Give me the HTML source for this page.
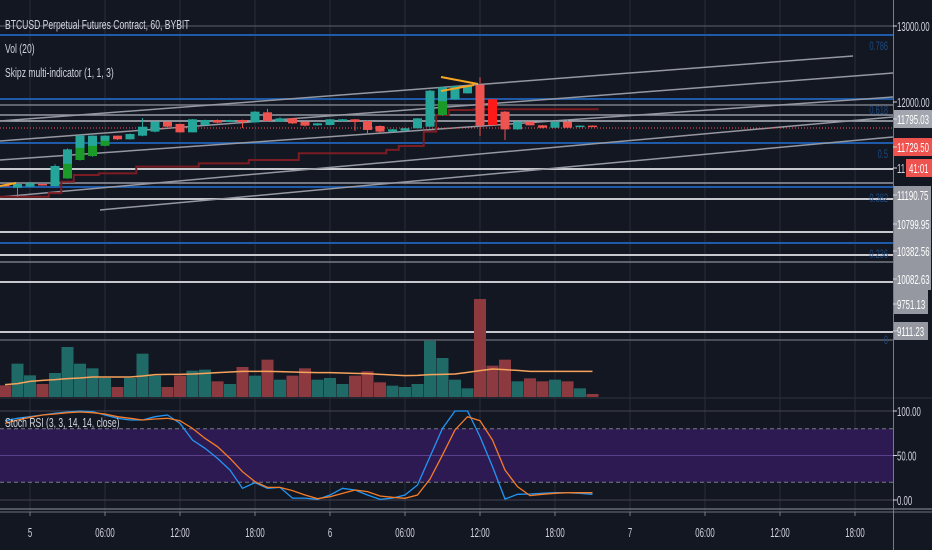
<!DOCTYPE html>
<html><head><meta charset="utf-8">
<style>
html,body{margin:0;padding:0;background:#131722;}
#wrap{position:relative;width:932px;height:550px;overflow:hidden;background:#131722;font-family:"Liberation Sans",sans-serif;}
svg{position:absolute;left:0;top:0;}
.lg{position:absolute;left:5px;color:#d1d4dc;font-size:13px;font-family:"Liberation Sans",sans-serif;white-space:nowrap;transform:scaleX(0.66);transform-origin:0 0;}
</style></head>
<body>
<div id="wrap">
<svg id="chart" width="932" height="550"></svg>
<div class="lg" style="top:17px">BTCUSD Perpetual Futures Contract, 60, BYBIT</div>
<div class="lg" style="top:41px">Vol (20)</div>
<div class="lg" style="top:65px">Skipz multi-indicator (1, 1, 3)</div>
<div class="lg" style="top:415px">Stoch RSI (3, 3, 14, 14, close)</div>
</div>
<script>
// ---- data (hourly bars, first bar = day 5 hour -2) ----
const hours = [-2,-1,0,1,2,3,4,5,6,7,8,9,10,11,12,13,14,15,16,17,18,19,20,21,22,23,24,25,26,27,28,29,30,31,32,33,34,35,36,37,38,39,40,41,42,43,44,45];
const opens = [10908,10873,10886,10921,10895,10996,11237,11289,11425,11557,11509,11557,11610,11741,11711,11601,11697,11763,11737,11763,11732,11864,11741,11785,11741,11693,11697,11750,11772,11750,11684,11610,11623,11654,11675,11829,12035,12114,12224,12035,11873,11640,11741,11693,11662,11741,11675,11689];
const closes = [10895,10921,10930,10904,11158,11377,11557,11557,11557,11509,11579,11675,11741,11675,11601,11772,11763,11728,11763,11737,11873,11750,11785,11719,11689,11719,11772,11772,11737,11632,11610,11640,11654,11785,12149,12193,12211,12211,11689,11697,11640,11741,11693,11662,11741,11662,11689,11684];
const highs = [10915,10925,10950,10925,11180,11390,11575,11560,11560,11560,11585,11790,11745,11745,11715,11775,11768,11770,11766,11768,11880,11910,11800,11790,11745,11722,11776,11776,11776,11755,11690,11645,11658,11790,12160,12200,12215,12215,12325,12040,11880,11745,11745,11698,11745,11770,11692,11692];
const lows = [10886,10754,10880,10900,10890,10990,11230,11280,11420,11500,11505,11550,11600,11670,11595,11598,11690,11720,11733,11660,11728,11745,11738,11712,11680,11688,11693,11745,11620,11570,11600,11605,11618,11650,11670,11820,12030,12110,11553,11690,11500,11635,11690,11655,11658,11655,11670,11680];
const signal = [0,0,0,0,0,1,1,1,1,0,0,0,0,0,0,0,0,0,0,0,0,0,0,0,0,0,0,0,0,0,0,0,0,0,0,1,0,0,0,2,0,0,0,0,0,0,0,0];
const volumes = [35,100,65,39,72,150,100,86,57,30,57,130,64,30,64,79,82,47,39,90,64,112,52,64,86,52,57,39,64,77,44,34,30,39,169,117,52,26,294,94,112,47,56,47,52,47,26,9];
const volMA = [37,40,47,50,52,55,57,60,60,60,60,63,67,68,68,69,71,73,75,77,77,77,76,75,74,73,73,72,71,70,68,66,64,65,67,68,69,74,79,84,82,80,77,77,77,77,77,77];
const trail = [10754,10754,10754,10754,10801,10950,11039,11039,11061,11061,11061,11149,11149,11149,11149,11149,11193,11193,11193,11193,11237,11237,11237,11237,11325,11325,11325,11325,11325,11325,11325,11370,11421,11421,11610,11829,11895,11895,11904,11904,11904,11904,11904,11904,11904,11904,11904,11904];
const stochK = [89.1,91.8,93.6,95.5,97.4,98.9,100,99.3,95.5,91.8,89.9,89.9,93.6,95.5,86.1,67.4,58.1,46.8,33.7,13.1,19.5,13.1,14.2,2.1,2.1,0.7,5.6,13.1,11.2,5.6,0.7,2.1,5.6,16.9,48.7,80.5,100,100,71.2,37.5,1.1,6.4,6.7,7.5,8.2,8.2,7.5,6.4];
const stochD = [86.1,89.9,92.9,95.5,96.6,98.1,98.9,98.1,96.6,93.6,91.8,89.9,91,91.8,89.1,80.5,69.3,59.9,46.8,31.8,20.6,14.2,14.2,10.5,5.6,1.5,3.7,7.5,11.2,9.4,4.5,3,1.9,5.6,23.6,50.6,78.7,93.6,89.1,67.4,33.7,15,4.9,6.4,7.5,8.2,8.2,8.2];
const timeTicks = [0,6,12,18,24,30,36,42,48,54,60,66];
const timeLabels = ["5","06:00","12:00","18:00","6","06:00","12:00","18:00","7","06:00","12:00","18:00"];
const rsiTicks = [100,50,0];
const rsiTickLabels = ["100.00","50.00","0.00"];

// ---- scales ----
const xOf = h => 30 + 12.5*h;
const yP = p => 102 + (12000-p)*0.076;
const yV = v => 397 - v/3;
const yR = v => 500 - v*0.89;

const NS="http://www.w3.org/2000/svg";
const svg=document.getElementById('chart');
function mk(tag,attrs,parent){const e=document.createElementNS(NS,tag);for(const k in attrs)e.setAttribute(k,attrs[k]);(parent||svg).appendChild(e);return e;}

// grid
timeTicks.forEach((t,i)=>{
  const g=mk('line',{x1:xOf(t),x2:xOf(t),y1:0,y2:512,stroke:'#2a2e39','stroke-width':1});
  
  
});
// RSI band
const band=mk('rect',{x:0,y:yR(80),width:893,height:yR(20)-yR(80),fill:'#2e1a52'});


[[100,'#434651',''],[80,'#787b86','4 3'],[50,'#5a3f8a',''],[20,'#787b86','4 3'],[0,'#434651','']].forEach(d=>{
  const l=mk('line',{x1:0,x2:893,y1:yR(d[0]),y2:yR(d[0]),stroke:d[1],'stroke-width':1,'stroke-dasharray':d[2]});
  
  
});

// horizontal drawing lines (S/R levels)
[[26,'#5d606b',1],[105,'#787b86',1.5],[115,'#9598a1',1.5],[121,'#b2b5be',1.5],[169,'#c7c9cf',2],[183,'#9598a1',1.5],[199,'#c7c9cf',2],[232,'#c7c9cf',2],[255,'#c7c9cf',2],[262,'#787b86',1.5],[282,'#c7c9cf',2],[332,'#c7c9cf',2],[340,'#5d606b',1.5]].forEach(d=>{
  const l=mk('line',{x1:0,x2:893,y1:d[0],y2:d[0],stroke:d[1],'stroke-width':d[2]});
  
  
});
// fib blue lines
[[35,'0.786'],[99,'0.618'],[143,'0.5'],[187,'0.382'],[243,'0.236']].forEach(d=>{
  const l=mk('line',{x1:0,x2:893,y1:d[0],y2:d[0],stroke:'#1e5aa8','stroke-width':2});
  
  
  const t=mk('text',{x:0,y:0,'text-anchor':'end',fill:'#1d4a80','font-size':12,'font-family':'Liberation Sans, sans-serif',transform:'translate(888,'+(d[0]+15)+') scale(0.62,1)'});
  t.textContent=d[1];
  
  
});
const f0=mk('text',{x:0,y:0,'text-anchor':'end',fill:'#1d4a80','font-size':12,'font-family':'Liberation Sans, sans-serif',transform:'translate(888,344) scale(0.62,1)'});
f0.textContent='0';



// trend lines
[[0,121,853,56],[0,141,893,73],[0,160,893,97],[0,197,893,117],[100,210,893,137]].forEach(d=>{
  const l=mk('line',{x1:d[0],y1:d[1],x2:d[2],y2:d[3],stroke:'#9598a1','stroke-width':1.5});
  
  
});

// current price dotted
const cp=mk('line',{x1:0,x2:893,y1:yP(closes[closes.length-1])+2,y2:yP(closes[closes.length-1])+2,stroke:'#ef5350','stroke-width':1,'stroke-dasharray':'1 2'});



// trailing line
let tp='';
trail.forEach((v,i)=>{const x0=xOf(hours[i])-6.25,x1=xOf(hours[i])+6.25;tp+=(i?'L':'M')+x0+','+yP(v)+'L'+x1+','+yP(v);});
const tl=mk('path',{d:tp,fill:'none',stroke:'#7a1c22','stroke-width':2});



// volume bars
volumes.forEach((v,i)=>{
  const up=closes[i]>=opens[i];
  const r=mk('rect',{x:xOf(hours[i])-6,y:yV(v),width:12,height:v/3,fill:up?'#1f6a66':'#8c3a40'});
  
  
});
const vm=mk('polyline',{points:volMA.map((v,i)=>xOf(hours[i])+','+yV(v)).join(' '),fill:'none',stroke:'#f7a35c','stroke-width':1.5});



// candles
opens.forEach((o,i)=>{
  const c=closes[i],x=xOf(hours[i]);
  const up=c>=o;
  let col=up?'#26a69a':'#ef5350';
  const wk=mk('line',{x1:x,x2:x,y1:yP(highs[i]),y2:yP(lows[i]),stroke:col,'stroke-width':1});
  
  
  const top=yP(Math.max(o,c)),bot=yP(Math.min(o,c));
  const b=mk('rect',{x:x-4.5,y:top,width:9,height:Math.max(1.5,bot-top),fill:col});
  
  
  if(signal[i]){
    const s=mk('rect',{x:x-4.5,y:(top+bot)/2,width:9,height:Math.max(1.5,(bot-top)/2),fill:signal[i]==1?'#1b9a2a':'#ff1a1a'});
    if(signal[i]==2){s.setAttribute('y',top);s.setAttribute('height',Math.max(1.5,bot-top));}
    
    
  }
});
// orange pattern lines
[[441,77,478,84],[441,91,474,85],[0,186,16,183]].forEach(d=>{
  const l=mk('line',{x1:d[0],y1:d[1],x2:d[2],y2:d[3],stroke:'#f5a623','stroke-width':2});
  
  
});

// stoch lines
const kl=mk('polyline',{points:stochK.map((v,i)=>xOf(hours[i])+','+yR(v)).join(' '),fill:'none',stroke:'#2196f3','stroke-width':1.3});


const dl=mk('polyline',{points:stochD.map((v,i)=>xOf(hours[i])+','+yR(v)).join(' '),fill:'none',stroke:'#f57c28','stroke-width':1.3});



// pane separators & axes
[[398,'#2a2e39'],[509,'#787b86'],[512,'#5d606b']].forEach(d=>{
  const l=mk('line',{x1:0,x2:932,y1:d[0],y2:d[0],stroke:d[1],'stroke-width':1.2});
  
  
});
const ax=mk('line',{x1:893.5,x2:893.5,y1:0,y2:550,stroke:'#787b86','stroke-width':1});



// time labels
timeTicks.forEach((t,i)=>{
  const tk=mk('line',{x1:xOf(t),x2:xOf(t),y1:512,y2:516,stroke:'#787b86'});
  
  
  const tx=mk('text',{x:0,y:0,'text-anchor':'middle',fill:'#d1d4dc','font-size':13,'font-family':'Liberation Sans, sans-serif',transform:'translate('+xOf(t)+',537) scale(0.6,1)'});
  tx.textContent=timeLabels[i];
  
  
});

// price axis labels
function plabel(y,text,bg,fg,x0,w){
  if(bg){const r=mk('rect',{x:x0||894,y:y-9,width:w||38,height:18,fill:bg});
    
    }
  const tk=mk('line',{x1:893,x2:897,y1:y,y2:y,stroke:'#d1d4dc'});
  
  
  const t=mk('text',{x:0,y:0,fill:fg,'font-size':13,'font-family':'Liberation Sans, sans-serif',transform:'translate('+((x0||894)+3)+','+(y+5)+') scale(0.6,1)'});
  t.textContent=text;
  
  
}
const gb=mk('rect',{x:894,y:186,width:37,height:104,fill:'#9598a1'});


const gb2=mk('rect',{x:894,y:290,width:34,height:24,fill:'#9598a1'});


plabel(26,'13000.00',null,'#d1d4dc');
plabel(102,'12000.00',null,'#d1d4dc');
plabel(119,'11795.03','#a3a6af','#ffffff');
plabel(147,'11729.50','#ef5350','#ffffff');
plabel(168,'11',null,'#d1d4dc',894,12);
plabel(168,'41:01','#ef5350','#ffffff',906,26);
plabel(195,'11190.75',null,'#ffffff');
plabel(224,'10799.95',null,'#ffffff');
plabel(251,'10382.56',null,'#ffffff');
plabel(279,'10082.63',null,'#ffffff');
plabel(304,'9751.13',null,'#ffffff',894,34);
plabel(331,'9111.23','#9598a1','#ffffff',894,34);
rsiTicks.forEach((v,i)=>plabel(yR(v),rsiTickLabels[i],null,'#d1d4dc'));
</script>
</body></html>
